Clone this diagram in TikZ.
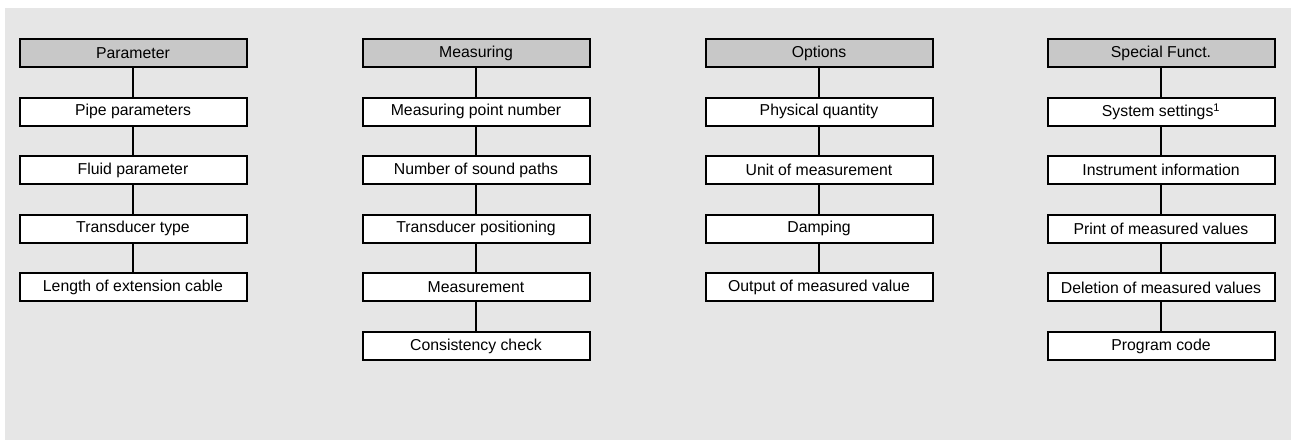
\documentclass[tikz,border=0pt]{standalone}
\usepackage{fontspec}
\setmainfont{Liberation Sans}
\definecolor{bggray}{HTML}{E6E6E6}
\definecolor{hdgray}{HTML}{C8C8C8}
\begin{document}
\begin{tikzpicture}[x=1pt,y=-1pt,
  item/.style={draw=black,line width=2pt,fill=white,minimum width=227pt,minimum height=28pt,inner sep=0pt,font=\fontsize{15.8}{18}\selectfont},
  head/.style={item,fill=hdgray},
  link/.style={line width=2pt}]
\useasboundingbox (0,0) rectangle (1291,444);
\fill[bggray] (5,8) rectangle (1291,440);
\def\pitch{58.6}
% Parameter column
\node[head] (p0) at (133,53) {Parameter};
\node[item] (p1) at (133,53+\pitch) {Pipe parameters};
\node[item] (p2) at (133,53+2*\pitch) {Fluid parameter};
\node[item] (p3) at (133,53+3*\pitch) {Transducer type};
\node[item] (p4) at (133,53+4*\pitch) {Length of extension cable};
\draw[link] (p0) -- (p1); \draw[link] (p1) -- (p2); \draw[link] (p2) -- (p3); \draw[link] (p3) -- (p4);
% Measuring column
\node[head] (m0) at (476,53) {Measuring};
\node[item] (m1) at (476,53+\pitch) {Measuring point number};
\node[item] (m2) at (476,53+2*\pitch) {Number of sound paths};
\node[item] (m3) at (476,53+3*\pitch) {Transducer positioning};
\node[item] (m4) at (476,53+4*\pitch) {Measurement};
\node[item] (m5) at (476,53+5*\pitch) {Consistency check};
\draw[link] (m0) -- (m1); \draw[link] (m1) -- (m2); \draw[link] (m2) -- (m3); \draw[link] (m3) -- (m4); \draw[link] (m4) -- (m5);
% Options column
\node[head] (o0) at (819,53) {Options};
\node[item] (o1) at (819,53+\pitch) {Physical quantity};
\node[item] (o2) at (819,53+2*\pitch) {Unit of measurement};
\node[item] (o3) at (819,53+3*\pitch) {Damping};
\node[item] (o4) at (819,53+4*\pitch) {Output of measured value};
\draw[link] (o0) -- (o1); \draw[link] (o1) -- (o2); \draw[link] (o2) -- (o3); \draw[link] (o3) -- (o4);
% Special Funct. column
\node[head] (s0) at (1161,53) {Special Funct.};
\node[item] (s1) at (1161,53+\pitch) {System settings\textsuperscript{1}};
\node[item] (s2) at (1161,53+2*\pitch) {Instrument information};
\node[item] (s3) at (1161,53+3*\pitch) {Print of measured values};
\node[item] (s4) at (1161,53+4*\pitch) {Deletion of measured values};
\node[item] (s5) at (1161,53+5*\pitch) {Program code};
\draw[link] (s0) -- (s1); \draw[link] (s1) -- (s2); \draw[link] (s2) -- (s3); \draw[link] (s3) -- (s4); \draw[link] (s4) -- (s5);
\end{tikzpicture}
\end{document}
